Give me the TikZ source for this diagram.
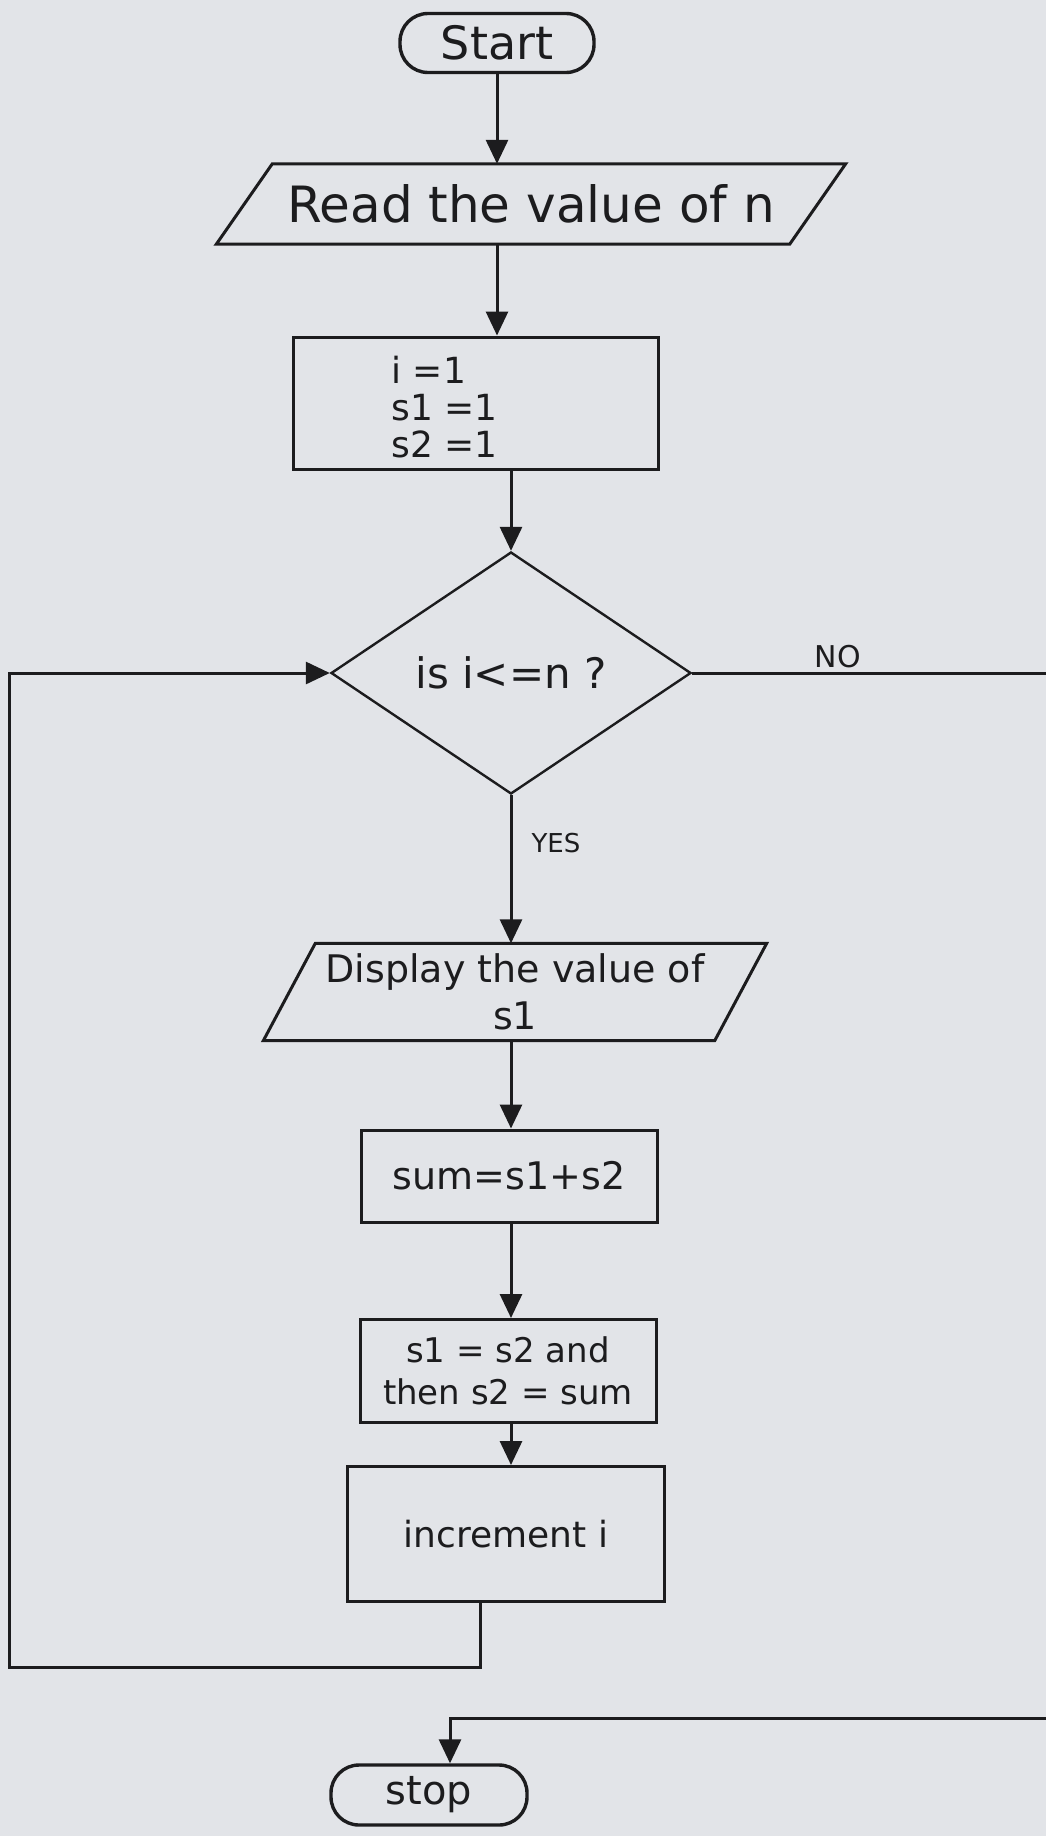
\documentclass[tikz,border=0pt]{standalone}
\usepackage{fontspec}
\setmainfont{DejaVu Sans}
\usetikzlibrary{shapes.geometric,arrows.meta,calc}
\definecolor{paper}{RGB}{226,228,232}
\definecolor{ink}{RGB}{28,28,30}
\begin{document}
\begin{tikzpicture}[x=1pt,y=-1pt,
  every node/.style={text=ink, font=\fontsize{36}{42}\selectfont},
  term/.style={draw=ink, line width=3.4pt, rectangle, rounded corners=28pt, inner sep=0pt},
  procbox/.style={draw=ink, line width=3pt, rectangle, inner sep=0pt},
  iobox/.style={rectangle, inner sep=0pt},
  decbox/.style={draw=ink, line width=2.4pt, diamond, inner sep=0pt},
  flow/.style={draw=ink, line width=3pt, -{Triangle[length=24pt,width=22pt]}},
  wire/.style={draw=ink, line width=3pt, line join=miter},
  lbl/.style={font=\fontsize{30}{34}\selectfont}
]
\useasboundingbox (0,0) rectangle (1046,1836);
\clip (0,0) rectangle (1046,1836);
\fill[paper] (0,0) rectangle (1046,1836);

% nodes
\node[term, minimum width=194pt, minimum height=59pt, font=\fontsize{46}{52}\selectfont] (start) at (497,43) {Start};

\node[iobox, minimum width=629pt, minimum height=80pt, font=\fontsize{50}{56}\selectfont] (read) at (531,204) {Read the value of n};
\draw[wire] ($(read.north west)+(56,0)$) -- (read.north east) -- ($(read.south east)+(-56,0)$) -- (read.south west) -- cycle;

\node[procbox, minimum width=365pt, minimum height=132pt] (init) at (475.5,403) {};
\node[anchor=west, align=left, font=\fontsize{36}{37}\selectfont] (initt) at (388,407) {i =1\\s1 =1\\s2 =1};

\node[decbox, minimum width=360pt, minimum height=242pt, font=\fontsize{42}{48}\selectfont] (dia) at (511,673) {is i<=n ?};

\node[iobox, minimum width=503pt, minimum height=97pt, align=center, font=\fontsize{38}{47}\selectfont] (disp) at (515,992) {Display the value of\\s1};
\draw[wire] ($(disp.north west)+(52,0)$) -- (disp.north east) -- ($(disp.south east)+(-52,0)$) -- (disp.south west) -- cycle;

\node[procbox, minimum width=296pt, minimum height=92pt, font=\fontsize{38}{44}\selectfont] (sum) at (509,1176) {sum=s1+s2};

\node[procbox, minimum width=296pt, minimum height=103pt, align=center, font=\fontsize{34}{42}\selectfont] (swap) at (508,1371) {s1 = s2 and\\then s2 = sum};

\node[procbox, minimum width=317pt, minimum height=135pt] (inc) at (506,1534) {increment i};

\node[term, minimum width=196pt, minimum height=60pt, font=\fontsize{40}{46}\selectfont] (stop) at (429,1795) {stop};

\node[lbl] (no) at (838,657) {NO};
\node[lbl, font=\fontsize{26}{30}\selectfont] (yes) at (556,843) {YES};

% helper coordinates
\coordinate (lpr) at (480,1667);
\coordinate (lpl) at (9,1667);
\coordinate (offr) at (1070,1718);
\coordinate (retl) at (450,1718);

% connectors
\draw[flow] (start.south) -- (start.south |- read.north);
\draw[flow] (start.south |- read.south) -- (start.south |- init.north);
\draw[flow] (dia.north |- init.south) -- (dia.north);
\draw[flow] (dia.south) -- (dia.south |- disp.north);
\draw[flow] (dia.south |- disp.south) -- (dia.south |- sum.north);
\draw[flow] (dia.south |- sum.south) -- (dia.south |- swap.north);
\draw[flow] (dia.south |- swap.south) -- (dia.south |- inc.north);
\draw[flow] (inc.south -| lpr) -- (lpr) -- (lpl) |- (dia.west);
\draw[flow] (dia.east) -| (offr) -- (retl) -- (retl |- stop.north);
\end{tikzpicture}
\end{document}
